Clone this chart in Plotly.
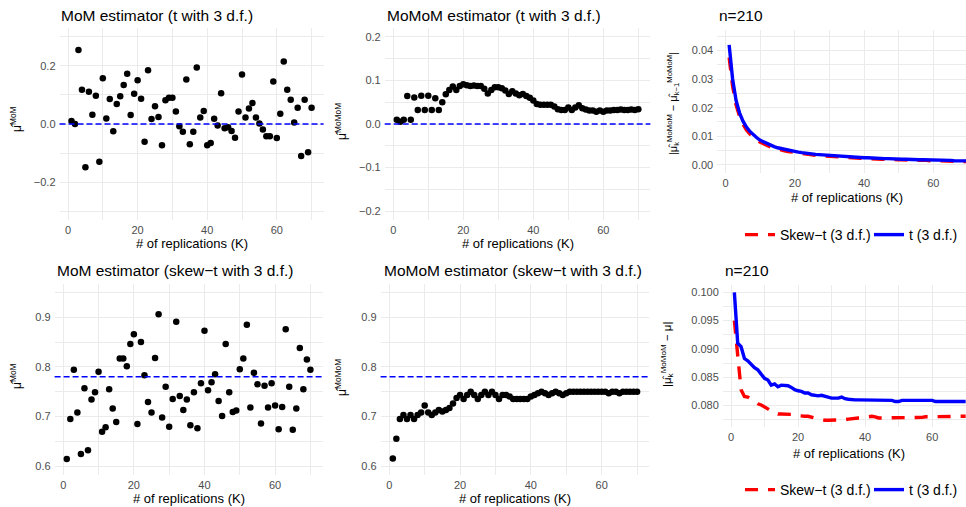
import plotly.graph_objects as go

W, H = 966, 507

K = list(range(1, 71))

mom_t = [0.010, 0.000, 0.254, 0.118, -0.149, 0.111, 0.032, 0.097, -0.130, 0.157,
         0.019, 0.086, -0.025, 0.069, 0.095, 0.134, 0.173, 0.031, 0.104, 0.150,
         0.087, -0.061, 0.185, 0.017, 0.061, 0.024, -0.073, 0.082, 0.090, 0.090,
         0.043, -0.008, -0.027, 0.153, -0.070, -0.027, 0.194, 0.022, 0.045, -0.073,
         -0.065, 0.018, -0.005, 0.106, -0.015, -0.011, -0.024, -0.047, 0.043, 0.170,
         0.022, 0.053, 0.072, 0.022, 0.002, -0.019, -0.042, -0.042, 0.146, -0.048,
         0.035, 0.215, 0.118, 0.083, 0.005, 0.056, -0.110, 0.083, -0.097, 0.056]

momom_t = [0.010, 0.005, 0.010, 0.064, 0.010, 0.061, 0.032, 0.065, 0.032, 0.065,
           0.032, 0.059, 0.032, 0.050, 0.068, 0.078, 0.086, 0.078, 0.087, 0.091,
           0.089, 0.087, 0.088, 0.087, 0.087, 0.081, 0.070, 0.078, 0.084, 0.084,
           0.082, 0.077, 0.069, 0.075, 0.070, 0.066, 0.069, 0.064, 0.060, 0.054,
           0.046, 0.044, 0.044, 0.044, 0.044, 0.040, 0.034, 0.032, 0.032, 0.038,
           0.032, 0.038, 0.043, 0.036, 0.033, 0.031, 0.031, 0.028, 0.031, 0.028,
           0.031, 0.031, 0.032, 0.032, 0.033, 0.032, 0.032, 0.033, 0.032, 0.034]

mom_skew = [0.614, 0.695, 0.794, 0.708, 0.624, 0.757, 0.632, 0.734, 0.749, 0.790,
            0.669, 0.678, 0.755, 0.716, 0.689, 0.817, 0.817, 0.801, 0.846, 0.866,
            0.685, 0.850, 0.783, 0.729, 0.708, 0.818, 0.906, 0.698, 0.760, 0.679,
            0.735, 0.891, 0.741, 0.713, 0.734, 0.682, 0.749, 0.676, 0.767, 0.873,
            0.753, 0.769, 0.785, 0.731, 0.701, 0.846, 0.749, 0.709, 0.712, 0.795,
            0.817, 0.885, 0.718, 0.788, 0.765, 0.686, 0.762, 0.718, 0.767, 0.722,
            0.674, 0.719, 0.876, 0.760, 0.673, 0.716, 0.838, 0.755, 0.815, 0.794]

momom_skew = [0.615, 0.655, 0.695, 0.703, 0.695, 0.703, 0.695, 0.703, 0.708, 0.722,
              0.708, 0.703, 0.708, 0.713, 0.710, 0.713, 0.717, 0.726, 0.737, 0.743,
              0.735, 0.743, 0.750, 0.743, 0.735, 0.743, 0.750, 0.743, 0.750, 0.743,
              0.735, 0.743, 0.743, 0.740, 0.735, 0.735, 0.735, 0.735, 0.735, 0.740,
              0.743, 0.747, 0.750, 0.747, 0.743, 0.747, 0.750, 0.747, 0.743, 0.747,
              0.750, 0.750, 0.750, 0.750, 0.750, 0.750, 0.750, 0.750, 0.750, 0.750,
              0.750, 0.747, 0.750, 0.750, 0.747, 0.750, 0.750, 0.750, 0.750, 0.750]

diff_t = [0.0419, 0.0300, 0.0225, 0.0182, 0.0153, 0.0132, 0.0117, 0.0105, 0.0095, 0.0086,
          0.0080, 0.0074, 0.0069, 0.0064, 0.0060, 0.0057, 0.0054, 0.0051, 0.0049, 0.0047,
          0.0045, 0.0043, 0.0041, 0.0040, 0.0038, 0.0037, 0.0036, 0.0035, 0.0034, 0.0033,
          0.0032, 0.0031, 0.0030, 0.0029, 0.0029, 0.0028, 0.0027, 0.0027, 0.0026, 0.0025,
          0.0025, 0.0024, 0.0024, 0.0023, 0.0023, 0.0022, 0.0022, 0.0021, 0.0021, 0.0020,
          0.0020, 0.0020, 0.0019, 0.0019, 0.0019, 0.0018, 0.0018, 0.0018, 0.0017, 0.0017,
          0.0017, 0.0016, 0.0016, 0.0016, 0.0016, 0.0015, 0.0015, 0.0015, 0.0015, 0.0014]

diff_skew = [0.0375, 0.0275, 0.0210, 0.0170, 0.0142, 0.0122, 0.0108, 0.0096, 0.0087, 0.0079,
             0.0073, 0.0068, 0.0063, 0.0059, 0.0055, 0.0052, 0.0049, 0.0047, 0.0045, 0.0043,
             0.0041, 0.0039, 0.0038, 0.0036, 0.0035, 0.0034, 0.0033, 0.0032, 0.0031, 0.0030,
             0.0029, 0.0028, 0.0027, 0.0027, 0.0026, 0.0025, 0.0025, 0.0024, 0.0023, 0.0023,
             0.0022, 0.0022, 0.0021, 0.0021, 0.0020, 0.0020, 0.0019, 0.0019, 0.0019, 0.0018,
             0.0018, 0.0018, 0.0017, 0.0017, 0.0017, 0.0016, 0.0016, 0.0016, 0.0015, 0.0015,
             0.0015, 0.0015, 0.0014, 0.0014, 0.0014, 0.0014, 0.0013, 0.0013, 0.0013, 0.0012]

err_t = [0.1000, 0.0910, 0.0904, 0.0883, 0.0879, 0.0872, 0.0867, 0.0863, 0.0855, 0.0848,
         0.0845, 0.0836, 0.0838, 0.0833, 0.0836, 0.0835, 0.0835, 0.0832, 0.0828, 0.0826,
         0.0825, 0.0822, 0.0822, 0.0819, 0.0818, 0.0817, 0.0818, 0.0816, 0.0815, 0.0813,
         0.0813, 0.0813, 0.0815, 0.0812, 0.0811, 0.0810, 0.0810, 0.0810, 0.0810, 0.0810,
         0.0810, 0.0810, 0.0810, 0.0810, 0.0810, 0.0809, 0.0809, 0.0809, 0.0807, 0.0807,
         0.0809, 0.0809, 0.0809, 0.0809, 0.0809, 0.0809, 0.0809, 0.0809, 0.0809, 0.0809,
         0.0807, 0.0807, 0.0807, 0.0807, 0.0807, 0.0807, 0.0807, 0.0807, 0.0807, 0.0807]

err_skew = [0.0950, 0.0892, 0.0828, 0.0816, 0.0815, 0.0811, 0.0807, 0.0803, 0.0801, 0.0798,
            0.0794, 0.0790, 0.0787, 0.0785, 0.0785, 0.0785, 0.0785, 0.0785, 0.0784, 0.0782,
            0.0781, 0.0781, 0.0781, 0.0779, 0.0778, 0.0777, 0.0775, 0.0774, 0.0774, 0.0774,
            0.0774, 0.0774, 0.0774, 0.0775, 0.0776, 0.0777, 0.0778, 0.0778, 0.0778, 0.0779,
            0.0780, 0.0781, 0.0780, 0.0778, 0.0778, 0.0778, 0.0778, 0.0778, 0.0778, 0.0778,
            0.0778, 0.0778, 0.0779, 0.0779, 0.0779, 0.0779, 0.0779, 0.0780, 0.0780, 0.0780,
            0.0780, 0.0780, 0.0780, 0.0781, 0.0781, 0.0781, 0.0781, 0.0781, 0.0781, 0.0781]

true_mu_t = 0.0
true_mu_skew = 0.78

titles = ["MoM estimator (t with 3 d.f.)", "MoMoM estimator (t with 3 d.f.)", "n=210",
          "MoM estimator (skew\u2212t with 3 d.f.)", "MoMoM estimator (skew\u2212t with 3 d.f.)", "n=210"]
xlabel = "# of replications (K)"
legend_names = ["Skew\u2212t (3 d.f.)", "t (3 d.f.)"]

FONT = "Liberation Sans, Arial, sans-serif"
GRID = "#EBEBEB"
TICKC = "#4D4D4D"

# panel pixel rectangles: (left, right, top, bottom)
panels = {
    1: (59.5, 323.6, 28, 220),
    2: (384.7, 650.4, 28, 220),
    3: (717.2, 966, 30, 173),
    4: (54.6, 322.6, 283.8, 474.7),
    5: (380.6, 649.3, 283.8, 474.7),
    6: (722.8, 966, 285, 427),
}

def xd(l, r):
    return [l / W, min(r / W, 1.0)]

def yd(t, b):
    return [1 - b / H, 1 - t / H]

fig = go.Figure()

ax = lambda i: ("x" if i == 1 else f"x{i}", "y" if i == 1 else f"y{i}")

# scatter panels
for i, ys in [(1, mom_t), (2, momom_t), (4, mom_skew), (5, momom_skew)]:
    xa, ya = ax(i)
    fig.add_trace(go.Scatter(x=K, y=ys, mode="markers", xaxis=xa, yaxis=ya,
                             marker=dict(color="black", size=6.5), showlegend=False,
                             cliponaxis=False))

# reference lines
for i, mu in [(1, true_mu_t), (2, true_mu_t), (4, true_mu_skew), (5, true_mu_skew)]:
    xa, ya = ax(i)
    fig.add_shape(type="line", xref=f"{xa} domain", yref=ya, x0=0, x1=1, y0=mu, y1=mu,
                  line=dict(color="#0000FF", width=1.3, dash="6px,3px"), layer="above")

# line panels
for i, (red, blue), lg in [(3, (diff_skew, diff_t), "legend"), (6, (err_skew, err_t), "legend2")]:
    xa, ya = ax(i)
    fig.add_trace(go.Scatter(x=K, y=red, mode="lines", xaxis=xa, yaxis=ya, name=legend_names[0],
                             line=dict(color="#FF0000", width=3.4, dash="13px,10px"), legend=lg))
    fig.add_trace(go.Scatter(x=K, y=blue, mode="lines", xaxis=xa, yaxis=ya, name=legend_names[1],
                             line=dict(color="#0000FF", width=3.4), legend=lg))

yranges = {1: [-0.33, 0.33], 2: [-0.22, 0.22], 3: [-0.0028, 0.0471],
           4: [0.5825, 0.9675], 5: [0.5825, 0.9675], 6: [0.0762, 0.1013]}
xranges = {1: [-2.45, 73.45], 2: [-2.45, 73.45], 3: [-2.45, 69.45],
           4: [-2.45, 73.45], 5: [-2.45, 73.45], 6: [-2.45, 70.1]}
yticks = {1: (0.2, 0.1, ".1f", -0.2), 2: (0.1, 0.05, ".1f", -0.2), 3: (0.01, 0.005, ".2f", 0),
          4: (0.1, 0.05, ".1f", 0.6), 5: (0.1, 0.05, ".1f", 0.6), 6: (0.005, 0.0025, ".3f", 0.08)}

layout = {}
for i, (l, r, t, b) in panels.items():
    xk = "xaxis" if i == 1 else f"xaxis{i}"
    yk = "yaxis" if i == 1 else f"yaxis{i}"
    xa, ya = ax(i)
    dt, mdt, fmt, t0 = yticks[i]
    layout[xk] = dict(domain=xd(l, r), range=xranges[i], anchor=ya, dtick=20, tick0=0,
                      showgrid=True, gridcolor=GRID, gridwidth=1.1, zeroline=False,
                      showline=False, ticks="", tickfont=dict(size=11, color=TICKC),
                      ticklabelstandoff=2, automargin=False,
                      minor=dict(dtick=10, tick0=0, showgrid=True, gridcolor=GRID, gridwidth=0.6),
                      fixedrange=True)
    layout[yk] = dict(domain=yd(t, b), range=yranges[i], anchor=xa, dtick=dt, tick0=t0,
                      tickformat=fmt, showgrid=True, gridcolor=GRID, gridwidth=1.1, zeroline=False,
                      showline=False, ticks="", tickfont=dict(size=11, color=TICKC),
                      ticklabelstandoff=3, automargin=False,
                      minor=dict(dtick=mdt, tick0=t0, showgrid=True, gridcolor=GRID, gridwidth=0.6),
                      fixedrange=True)

annotations = []
def ann(text, x, y, size, xanchor="left", angle=0, color="black"):
    annotations.append(dict(text=text, x=x / W, y=1 - y / H, xref="paper", yref="paper",
                            xanchor=xanchor, yanchor="middle", showarrow=False,
                            textangle=angle, font=dict(size=size, color=color, family=FONT)))

title_pos = {1: (59, 15), 2: (385, 15), 3: (717, 15), 4: (55, 270), 5: (381.5, 270), 6: (723, 270)}
for i, (x, y) in title_pos.items():
    ann(titles[i - 1], x, y, 15.5)

xt_pos = {1: (191.5, 243), 2: (517.5, 243), 3: (847, 197), 4: (189, 498), 5: (515, 498), 6: (849, 453)}
for i, (x, y) in xt_pos.items():
    ann(xlabel, x, y, 13, xanchor="center")

mu_hat = "\u03bc\u0302"
ylab_mom = mu_hat + "<sup>MoM</sup>"
ylab_momom = mu_hat + "<sup>MoMoM</sup>"
ylab_diff = "|" + mu_hat + "<sub>k</sub><sup>MoMoM</sup> \u2212 " + mu_hat + "<sub>k\u22121</sub><sup>MoMoM</sup>|"
ylab_err = "|" + mu_hat + "<sub>k</sub><sup>MoMoM</sup> \u2212 \u03bc|"
ann(ylab_mom, 16, 119, 12, xanchor="center", angle=-90)
ann(ylab_momom, 341, 122, 12, xanchor="center", angle=-90)
ann(ylab_diff, 673, 104, 11, xanchor="center", angle=-90)
ann(ylab_mom, 16, 376, 12, xanchor="center", angle=-90)
ann(ylab_momom, 341, 378, 12, xanchor="center", angle=-90)
ann(ylab_err, 667, 355, 11.5, xanchor="center", angle=-90)

layout["annotations"] = annotations
leg = dict(orientation="h", xanchor="left", yanchor="middle", bgcolor="rgba(0,0,0,0)",
           font=dict(size=14, color="black", family=FONT), itemwidth=30, traceorder="normal",
           entrywidth=84, entrywidthmode="pixels")
layout["legend"] = dict(leg, x=740 / W, y=1 - 235 / H)
layout["legend2"] = dict(leg, x=740 / W, y=1 - 490 / H)

fig.update_layout(**layout)
fig.update_layout(width=W, height=H, margin=dict(l=0, r=0, t=0, b=0, autoexpand=False),
                  plot_bgcolor="white", paper_bgcolor="white",
                  font=dict(family=FONT, color="black"), showlegend=True)

fig.write_html("out.html", config={"displayModeBar": False},
               post_script="document.body.style.margin='0';document.body.style.overflow='hidden';")
